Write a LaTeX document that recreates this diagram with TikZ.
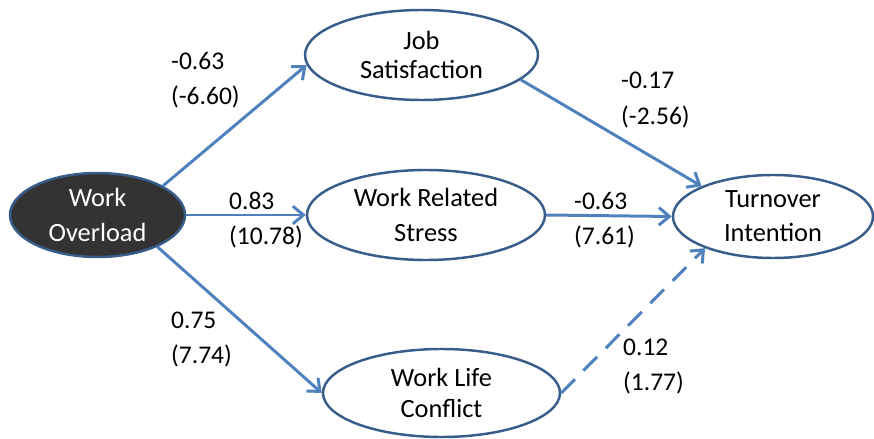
\documentclass[tikz,border=0pt]{standalone}
\usepackage{fontspec}
\setmainfont{Carlito}
\usepackage{tikz}
\usetikzlibrary{shapes,positioning,arrows.meta}

\definecolor{rim}{HTML}{385D8A}
\definecolor{link}{HTML}{4F81BD}
\definecolor{dark}{HTML}{333333}

\begin{document}
\begin{tikzpicture}[
      line width=1.4pt,
      construct/.style={draw=rim,ellipse,inner sep=0pt,align=center,
        font=\fontsize{15}{19.5}\selectfont},
      effect/.style={draw=link,line width=1.7pt,-{Straight Barb[length=6pt,width=10pt]}},
      weak/.style={effect,dash pattern=on 11pt off 7pt},
      coef/.style={anchor=west,align=left,inner sep=0pt,font=\fontsize{14.5}{20}\selectfont}
      ]

      \path[use as bounding box] (0,0) rectangle (17.48,-8.78);

      % les variables latentes
      \node[construct,fill=dark,text=white,minimum width=3.5cm,minimum height=1.68cm] (overload) at (1.95,-4.30) {Work\\Overload};
      \path node[construct,minimum width=4.66cm,minimum height=1.8cm,font=\fontsize{15}{17}\selectfont] (satisf) at (8.43,-1.10) {Job\\Satisfaction};
      \path node[construct,minimum width=4.76cm,minimum height=1.8cm] (stress) at (8.52,-4.30) {Work Related\\Stress};
      \path node[construct,minimum width=4.74cm,minimum height=1.76cm,font=\fontsize{15}{17.5}\selectfont] (conflict) at (8.83,-7.86) {Work Life\\Conflict};
      \path node[construct,minimum width=4.0cm,minimum height=1.66cm] (turnover) at (15.46,-4.33) {Turnover\\Intention};

      \path[effect] (overload.24) -- (satisf.185);
      \path[effect] (overload.east) -- (stress.west);
      \path[effect] (overload.-28) -- (conflict.west);
      \path[effect] (satisf.-14) -- (turnover.157);
      \path[effect] (stress.east) -- (turnover.west);
      \path[weak] (conflict.east) -- (turnover.205);

      % coefficients (t)
      \node[coef] (c-satisf) at (3.40,-1.61) {-0.63\\(-6.60)};
      \node[coef] (c-stress) at (4.56,-4.40) {0.83\\(10.78)};
      \node[coef] (c-conflict) at (3.40,-6.79) {0.75\\(7.74)};
      \node[coef] (c-sat-turn) at (12.40,-2.00) {-0.17\\(-2.56)};
      \node[coef] (c-str-turn) at (11.46,-4.40) {-0.63\\(7.61)};
      \node[coef] (c-con-turn) at (12.44,-7.33) {0.12\\(1.77)};
\end{tikzpicture}
\end{document}
